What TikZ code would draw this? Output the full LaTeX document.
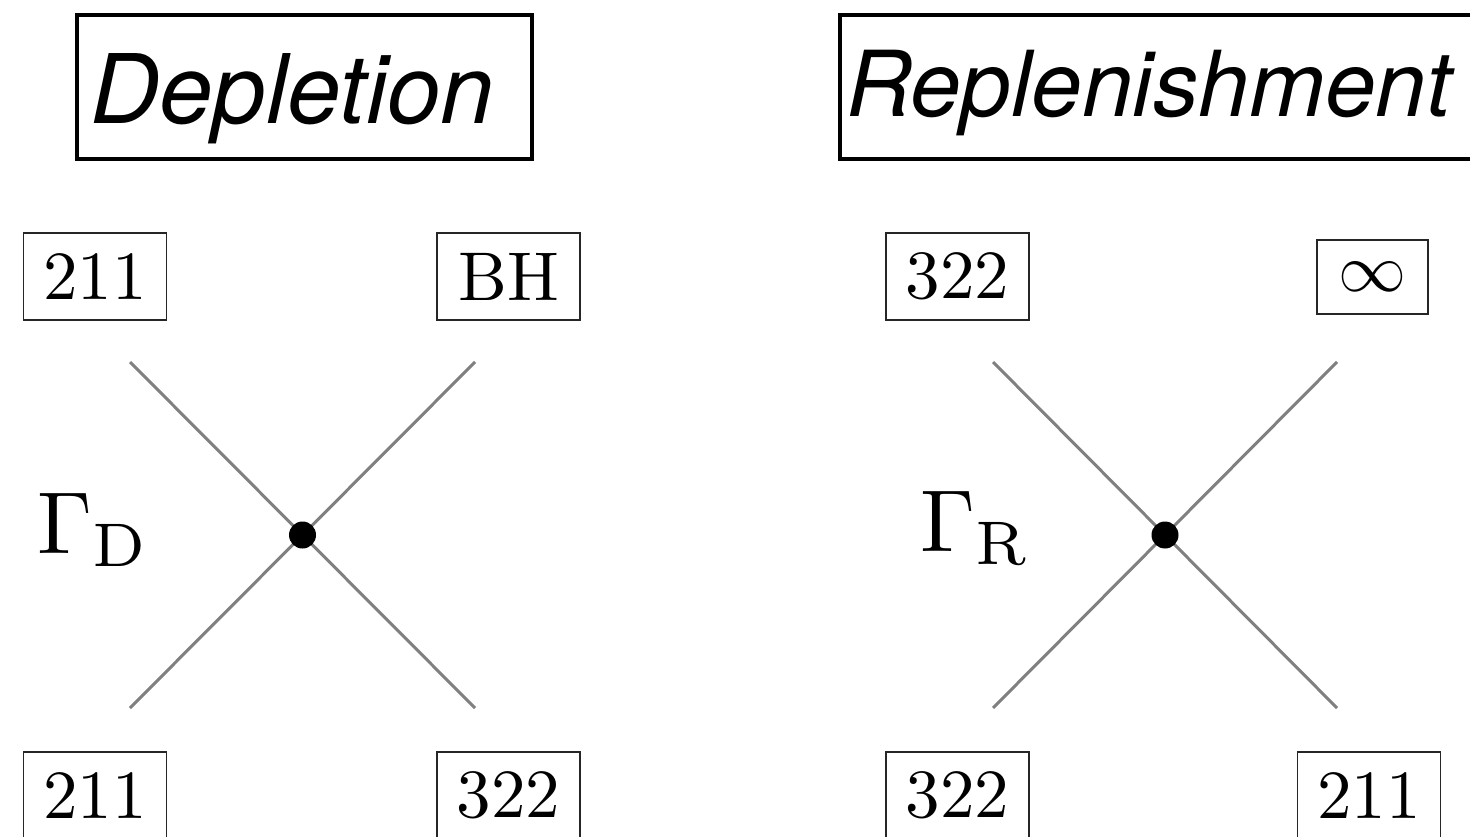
\documentclass[tikz,border=0pt]{standalone}
\usepackage{fontspec}
\setsansfont{TeX Gyre Heros}
\begin{document}
\begin{tikzpicture}[x=1pt,y=-1pt,
  titlebox/.style={draw=black,line width=4pt,anchor=north west,minimum height=144pt,
    inner ysep=0pt,align=left},
  pbox/.style={draw=black!85,line width=1.8pt,minimum width=143pt,minimum height=87pt,
    inner sep=0pt},
  leg/.style={draw=black!50,line width=3pt},
  vtx/.style={circle,fill=black,inner sep=0pt,minimum size=27pt},
  glabel/.style={anchor=base west,inner sep=0pt}]
\useasboundingbox (0,0) rectangle (1470,837);
% titles
\node[titlebox,inner xsep=13pt,text width=429pt,text height=84pt,text depth=10pt,
  font=\sffamily\itshape\fontsize{96}{100}\selectfont] (tD) at (75,13) {Depletion};
\node[titlebox,inner xsep=6pt,text width=650pt,text height=75pt,text depth=15pt,
  font=\sffamily\itshape\fontsize{91}{94}\selectfont] (tR) at (838,13) {Replenishment};
% left diagram
\coordinate (dTL) at (130,362);
\coordinate (dTR) at (475,362);
\coordinate (dBL) at (130,708);
\coordinate (dBR) at (475,708);
\draw[leg] (dTL) -- (dBR);
\draw[leg] (dTR) -- (dBL);
\node[vtx] (vD) at (302.5,535) {};
\node[pbox] (d1) at (95,276.5) {\scalebox{6.9}{211}};
\node[pbox] (d2) at (508.5,276.5) {\scalebox{6.9}{BH}};
\node[pbox] (d3) at (95,795.5) {\scalebox{6.9}{211}};
\node[pbox] (d4) at (508.5,795.5) {\scalebox{6.9}{322}};
\node[glabel] (gD) at (37,553) {\scalebox{8.8}{$\Gamma_{\mathrm{D}}$}};
% right diagram
\coordinate (rTL) at (993,362);
\coordinate (rTR) at (1337,362);
\coordinate (rBL) at (993,708);
\coordinate (rBR) at (1337,708);
\draw[leg] (rTL) -- (rBR);
\draw[leg] (rTR) -- (rBL);
\node[vtx] (vR) at (1165,535) {};
\node[pbox] (r1) at (957.5,276.5) {\scalebox{6.9}{322}};
\node[pbox,minimum width=111pt,minimum height=74pt] (r2) at (1372.5,277) {\scalebox{6.8}{$\infty$}};
\node[pbox] (r3) at (957.5,795.5) {\scalebox{6.9}{322}};
\node[pbox] (r4) at (1369,795.5) {\scalebox{6.9}{211}};
\node[glabel] (gR) at (920,551) {\scalebox{8.8}{$\Gamma_{\mathrm{R}}$}};
\end{tikzpicture}
\end{document}
